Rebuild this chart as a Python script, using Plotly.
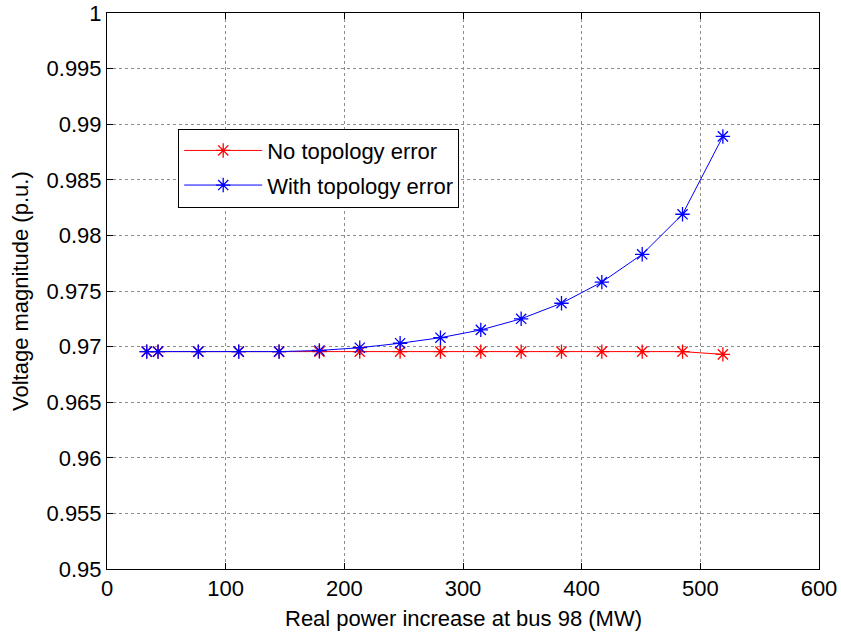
import plotly.graph_objects as go

power_mw = [33.5, 43, 77, 111, 145, 179, 213, 247, 281, 315, 349, 383, 417, 451, 485, 519]
v_no_error = [0.96955, 0.96955, 0.96955, 0.96955, 0.96955, 0.96955, 0.96955, 0.96955,
              0.96955, 0.96955, 0.96955, 0.96955, 0.96955, 0.96955, 0.96955, 0.9693]
v_with_error = [0.96955, 0.96955, 0.96955, 0.96955, 0.96955, 0.96965, 0.9699, 0.9703,
                0.9708, 0.9715, 0.9725, 0.9739, 0.9758, 0.9783, 0.9819, 0.9889]

x_ticks = [0, 100, 200, 300, 400, 500, 600]
y_ticks = [0.95, 0.955, 0.96, 0.965, 0.97, 0.975, 0.98, 0.985, 0.99, 0.995, 1]
y_tick_text = ["0.95", "0.955", "0.96", "0.965", "0.97", "0.975", "0.98", "0.985", "0.99", "0.995", "1"]

x_title = "Real power increase at bus 98 (MW)"
y_title = "Voltage magnitude (p.u.)"

FONT = "Liberation Sans, Arial, sans-serif"
FS = 22

fig = go.Figure()
fig.add_trace(go.Scatter(
    x=power_mw, y=v_no_error, mode="lines+markers", name="No topology error",
    legendgroup="a",
    line=dict(color="rgb(255,0,0)", width=1),
    marker=dict(symbol="asterisk-open", size=12, color="rgb(255,0,0)",
                line=dict(color="rgb(255,0,0)", width=1.3)),
))
fig.add_trace(go.Scatter(
    x=power_mw, y=v_with_error, mode="lines+markers", name="With topology error",
    legendgroup="b",
    line=dict(color="rgb(0,0,255)", width=1),
    marker=dict(symbol="asterisk-open", size=12, color="rgb(0,0,255)",
                line=dict(color="rgb(0,0,255)", width=1.3)),
))

axis_common = dict(
    showline=True, linecolor="black", linewidth=1, mirror="ticks",
    ticks="inside", ticklen=6, tickcolor="black", tickwidth=1,
    showgrid=True, gridcolor="#8c8c8c", gridwidth=1, griddash="dot",
    zeroline=False, tickfont=dict(family=FONT, size=FS, color="black"),
    automargin=False, ticklabeloverflow="allow",
)

fig.update_xaxes(range=[0, 600], tickvals=x_ticks, ticktext=[str(v) for v in x_ticks], **axis_common)
fig.update_yaxes(range=[0.95, 1.0000001], tickvals=y_ticks, ticktext=y_tick_text, **axis_common)

fig.add_annotation(
    text=x_title, xref="paper", yref="paper", x=0.5, y=0, xanchor="center", yanchor="middle",
    yshift=-49, showarrow=False, font=dict(family=FONT, size=FS, color="black"),
)
fig.add_annotation(
    text=y_title, xref="paper", yref="paper", x=0, y=0.5, xanchor="center", yanchor="middle",
    xshift=-87, textangle=-90, showarrow=False, font=dict(family=FONT, size=FS, color="black"),
)

fig.update_layout(
    width=841, height=638,
    margin=dict(l=107, r=22, t=13, b=69, autoexpand=False),
    paper_bgcolor="white", plot_bgcolor="white",
    font=dict(family=FONT, size=FS, color="black"),
    showlegend=True,
    legend=dict(
        x=0.1, y=0.792, xanchor="left", yanchor="top",
        bgcolor="white", bordercolor="black", borderwidth=1,
        font=dict(family=FONT, size=FS, color="black"),
        itemwidth=78, tracegroupgap=3,
    ),
)

fig.write_html("out.html")
